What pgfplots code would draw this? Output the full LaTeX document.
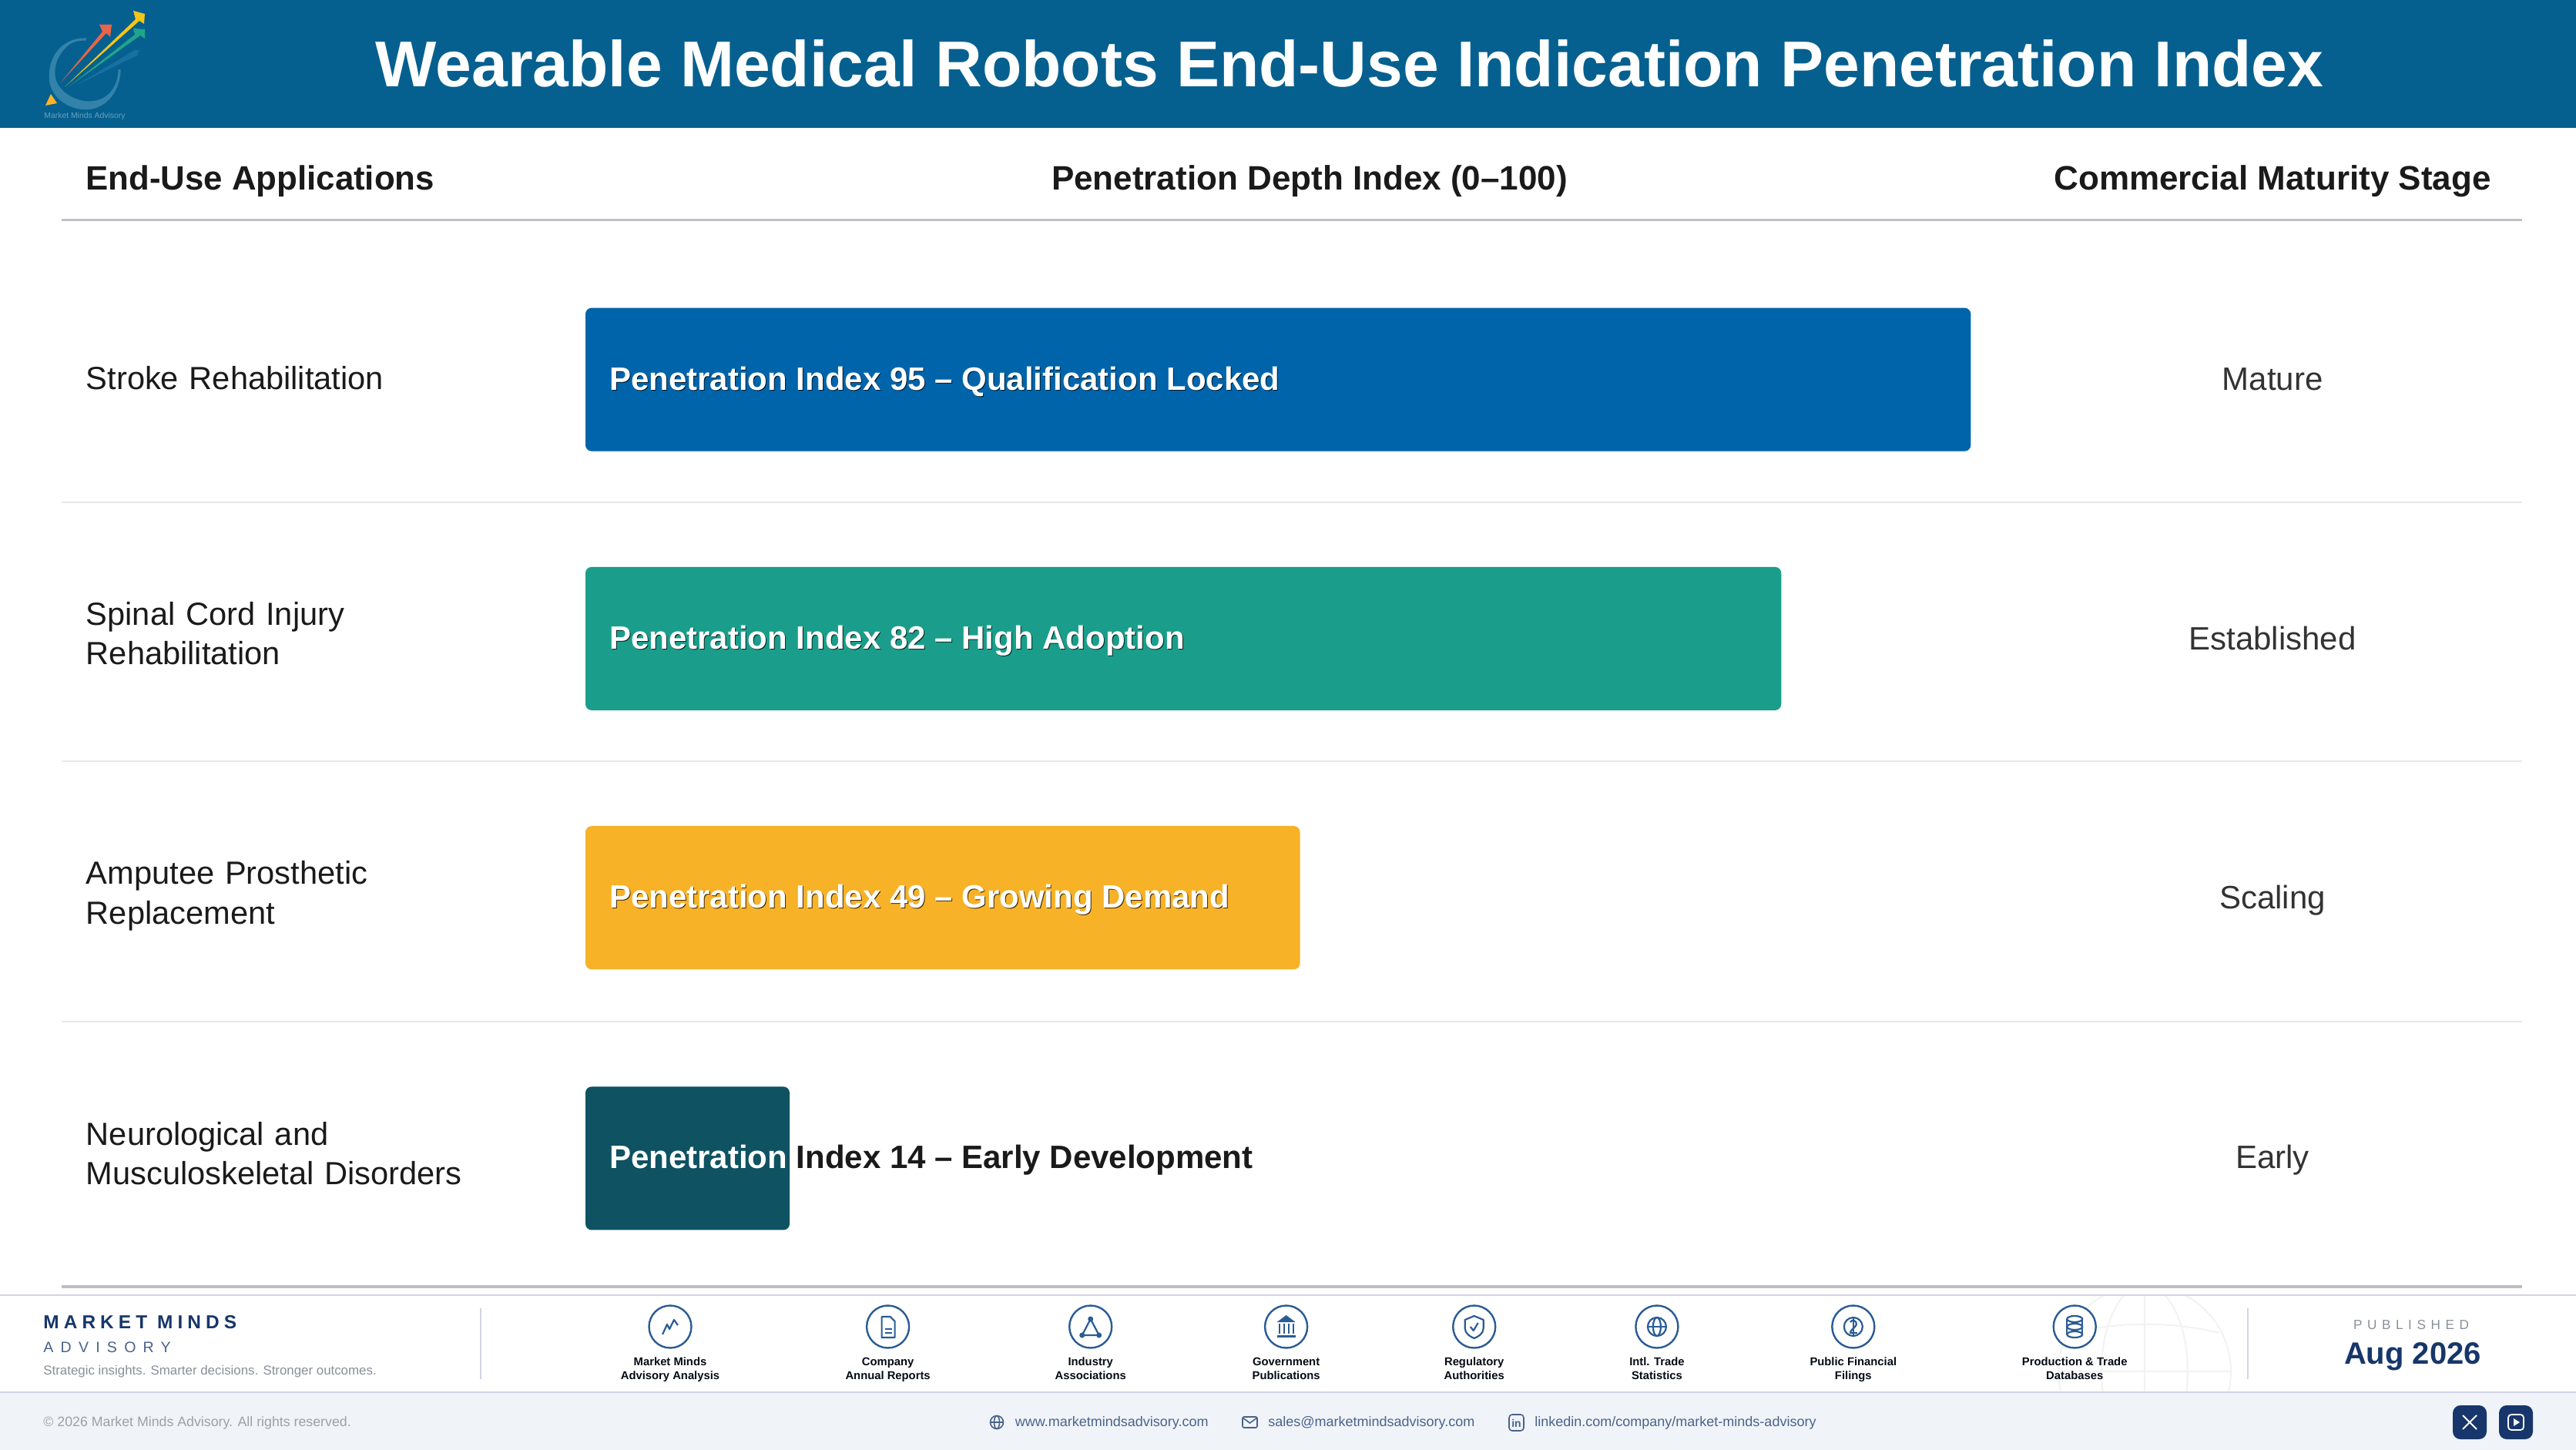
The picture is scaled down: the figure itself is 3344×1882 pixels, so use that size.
\documentclass[border=0pt]{standalone}
\usepackage{pgfplots}
\pgfplotsset{compat=1.18}
\usepackage{fontspec}
\setmainfont{Liberation Sans}
\newfontfamily\spacedA[LetterSpace=25,Ligatures=NoCommon]{Liberation Sans Bold}
\newfontfamily\spacedB[LetterSpace=47]{Liberation Sans}
\newfontfamily\spacedC[LetterSpace=38]{Liberation Sans}
\definecolor{hdr}{RGB}{5,96,143}
\definecolor{cA}{RGB}{0,100,170}
\definecolor{cB}{RGB}{26,158,139}
\definecolor{cC}{RGB}{247,178,40}
\definecolor{cD}{RGB}{15,82,98}
\definecolor{ink}{RGB}{26,26,26}
\definecolor{navy}{RGB}{23,54,107}
\definecolor{iconb}{RGB}{42,92,150}
\definecolor{bandline}{RGB}{208,212,228}
\definecolor{band}{RGB}{240,244,249}
\definecolor{grayt}{RGB}{138,143,153}
\definecolor{linkc}{RGB}{74,98,138}
\newcommand{\fs}[1]{\fontsize{#1}{#1}\selectfont}
\newcommand{\iconlabel}[3]{\node[anchor=base,font=\bfseries\fs{7.4},text=black!80!navy] at (#1,1772) {#2};
  \node[anchor=base,font=\bfseries\fs{7.4},text=black!80!navy] at (#1,1790) {#3};}
\begin{document}
\begin{tikzpicture}
\begin{scope}[x=0.5pt,y=-0.5pt]
\path[use as bounding box] (0,0) rectangle (3344,1882);
\fill[white] (0,0) rectangle (3344,1882);
% header
\fill[hdr] (0,0) rectangle (3344,166);
% logo
\draw[line width=1.6pt,color={rgb,255:red,50;green,130;blue,170}] (112,51) .. controls (75,50) and (60,85) .. (67,110) .. controls (75,135) and (105,145) .. (125,138) .. controls (145,130) and (155,110) .. (155,90);
\fill[fill={rgb,255:red,50;green,130;blue,170}] (100,52) .. controls (72,58) and (60,85) .. (65,110) .. controls (73,137) and (105,147) .. (125,140) .. controls (146,132) and (156,112) .. (155,90) .. controls (152,112) and (142,128) .. (122,131) .. controls (102,134) and (80,122) .. (73,105) .. controls (67,85) and (78,62) .. (100,52) -- cycle;
\fill[fill={rgb,255:red,232;green,101;blue,74}] (79,107)--(133,41)--(129,32)--(145,32)--(143,48)--(138,43)--cycle;
\fill[fill={rgb,255:red,245;green,197;blue,24}] (84,113)--(176,25)--(173,14)--(188,18)--(187,31)--(181,27)--cycle;
\fill[fill={rgb,255:red,31;green,165;blue,138}] (90,112)--(175,45)--(173,37)--(188,38)--(188,50)--(182,46)--cycle;
\fill[fill={rgb,255:red,31;green,119;blue,170},opacity=.7] (100,110)--(175,65)--(181,65)--(178,72)--cycle;
\fill[fill={rgb,255:red,250;green,180;blue,40}] (66,122)--(59,137)--(74,134)--cycle;
\node[anchor=base,font=\fs{5.2},text=hdr!60!white] at (110,154) {Market Minds Advisory};
\node[anchor=base,font=\bfseries\fs{42},text=white] at (1752,113) {Wearable Medical Robots End-Use Indication Penetration Index};
% column heads
\node[anchor=base west,inner sep=0pt,font=\bfseries\fs{21.9},text=ink] at (111,247) {End-Use Applications};
\node[anchor=base,inner sep=0pt,font=\bfseries\fs{22},text=ink] at (1700,247) {Penetration Depth Index (0--100)};
\node[anchor=base,inner sep=0pt,font=\bfseries\fs{22},text=ink] at (2950,247) {Commercial Maturity Stage};
% rules
\draw[line width=1.5pt,color={rgb,255:red,192;green,192;blue,198}] (80,286)--(3274,286);
\foreach \y in {652,987.5,1326}{\draw[line width=1pt,color=black!9] (80,\y)--(3274,\y);}
\draw[line width=1.7pt,color={rgb,255:red,190;green,190;blue,194}] (80,1670)--(3274,1670);
% footer
\fill[band] (0,1807) rectangle (3344,1882);
\begin{scope}
\clip (2600,1681) rectangle (3000,1807);
\draw[line width=1pt,color=black!5] (2784,1780) circle (112);
\draw[line width=1pt,color=black!5] (2784,1780) ellipse (56 and 112);
\draw[line width=1pt,color=black!5] (2672,1780)--(2896,1780);
\draw[line width=1pt,color=black!5] (2784,1668)--(2784,1892);
\draw[line width=1pt,color=black!5] (2690,1730) .. controls (2750,1715) and (2820,1715) .. (2880,1730);
\end{scope}
\draw[line width=1.2pt,color=bandline] (0,1681)--(3344,1681);
\draw[line width=1.2pt,color=bandline] (0,1807)--(3344,1807);
\draw[line width=.8pt,color=bandline] (624,1698)--(624,1790);
\draw[line width=.8pt,color=bandline] (2918,1698)--(2918,1790);
\node[anchor=base west,inner sep=0pt,font=\spacedA\fs{12.2},text=navy] at (56,1724) {MARKET MINDS};
\node[anchor=base west,inner sep=0pt,font=\spacedB\fs{9.8},text=linkc] at (56,1755) {ADVISORY};
\node[anchor=base west,inner sep=0pt,font=\fs{8.43},text=grayt] at (56,1784) {Strategic insights. Smarter decisions. Stronger outcomes.};
\node[anchor=base west,inner sep=0pt,font=\fs{8.88},text=grayt!85!white] at (56,1851) {© 2026 Market Minds Advisory. All rights reserved.};
% icon circles
\foreach \x in {870,1152.6,1415.7,1669.6,1913.7,2150.9,2405.8,2693.2}{\draw[line width=1.2pt,color=iconb,fill=white] (\x,1722) circle (27.5);}
\begin{scope}[shift={(870,1722)},color=iconb,line width=1.1pt,line join=round]
\draw (-10,10)--(-4,-3)--(-1,3)--(5,-9)--(10,-2);
\end{scope}
\begin{scope}[shift={(1152.6,1722)},color=iconb,line width=1.1pt,line join=round]
\draw (-8,-13)--(3,-13)--(9,-7)--(9,14)--(-8,14)--cycle;\draw (-4,3)--(5,3);\draw (-4,8)--(5,8);
\end{scope}
\begin{scope}[shift={(1415.7,1722)},color=iconb,line width=1.1pt,line join=round]
\draw (0,-10)--(-11,11)--(11,11)--cycle;\fill (0,-10) circle (3.5);\fill (-11,11) circle (3.5);\fill (11,11) circle (3.5);
\end{scope}
\begin{scope}[shift={(1669.6,1722)},color=iconb,line width=1.1pt,line join=round]
\fill (-12,-6)--(0,-15)--(12,-6)--cycle;\fill (-12,11) rectangle (12,14);
\foreach \a in {-9,-3,3,9}{\fill (\a-1,-4) rectangle (\a+1,9);}
\end{scope}
\begin{scope}[shift={(1913.7,1722)},color=iconb,line width=1.1pt,line join=round]
\draw (0,-14)--(12,-9)--(12,2)..controls (12,9) and (5,13)..(0,15)..controls (-5,13) and (-12,9)..(-12,2)--(-12,-9)--cycle;
\draw (-5,0)--(-1,5)--(5,-5);
\end{scope}
\begin{scope}[shift={(2150.9,1722)},color=iconb,line width=1.1pt]
\draw (0,0) circle (12);\draw (0,0) ellipse (5 and 12);\draw (-12,0)--(12,0);
\end{scope}
\begin{scope}[shift={(2405.8,1722)},color=iconb,line width=1.1pt,line join=round]
\draw (0,0) circle (12);\draw (-4,-6)..controls (-2,-10) and (5,-8)..(4,-3)..controls (3,1) and (-4,4)..(-4,8)--(5,8);\draw (0,-11)--(0,11);
\end{scope}
\begin{scope}[shift={(2693.2,1722)},color=iconb,line width=1.1pt]
\draw (-10,-10)--(-10,10);\draw (10,-10)--(10,10);\draw (0,-10) ellipse (10 and 4);\draw (0,0) ellipse (10 and 4);\draw (0,10) ellipse (10 and 4);
\end{scope}
\iconlabel{870}{Market Minds}{Advisory Analysis}
\iconlabel{1152.6}{Company}{Annual Reports}
\iconlabel{1415.7}{Industry}{Associations}
\iconlabel{1669.6}{Government}{Publications}
\iconlabel{1913.7}{Regulatory}{Authorities}
\iconlabel{2150.9}{Intl. Trade}{Statistics}
\iconlabel{2405.8}{Public Financial}{Filings}
\iconlabel{2693.2}{Production \& Trade}{Databases}
% published
\node[anchor=base,inner sep=0pt,font=\spacedC\fs{8.6},text=grayt] at (3130,1725) {PUBLISHED};
\node[anchor=base,inner sep=0pt,font=\bfseries\fs{20},text=navy] at (3132,1770) {Aug 2026};
% links
\begin{scope}[shift={(1294,1846)},color=linkc,line width=.8pt]
\draw (0,0) circle (8.5);\draw (0,0) ellipse (3.5 and 8.5);\draw (-8.5,0)--(8.5,0);
\end{scope}
\draw[color=linkc,line width=.8pt,rounded corners=1pt] (1613,1839) rectangle (1632,1853);\draw[color=linkc,line width=.8pt] (1613,1840)--(1622.5,1847)--(1632,1840);
\draw[color=linkc,line width=.8pt,rounded corners=2pt] (1959,1836) rectangle (1978,1857);
\node[font=\bfseries\fs{7},text=linkc,inner sep=0pt] at (1968.5,1847) {in};
\node[anchor=base west,inner sep=0pt,font=\fs{9},text=linkc] at (1317.5,1851) {www.marketmindsadvisory.com};
\node[anchor=base west,inner sep=0pt,font=\fs{9},text=linkc] at (1646,1851) {sales@marketmindsadvisory.com};
\node[anchor=base west,inner sep=0pt,font=\fs{9},text=linkc] at (1992,1851) {linkedin.com/company/market-minds-advisory};
\fill[navy,rounded corners=5pt] (3184,1824) rectangle (3228,1868);
\draw[white,line width=1pt] (3197,1837)--(3215,1855);\draw[white,line width=1pt] (3215,1837)--(3197,1855);
\fill[navy,rounded corners=5pt] (3244,1824) rectangle (3288,1868);
\draw[white,line width=.9pt,rounded corners=2pt] (3256,1836) rectangle (3276,1856);
\fill[white] (3263,1841)--(3271,1846)--(3263,1851)--cycle;
% right column
\node[anchor=base,font=\fs{21},text=black!80] at (2950,507) {Mature};
\node[anchor=base,font=\fs{21},text=black!80] at (2950,843) {Established};
\node[anchor=base,font=\fs{21},text=black!80] at (2950,1179) {Scaling};
\node[anchor=base,font=\fs{21},text=black!80] at (2950,1516) {Early};
\end{scope}
\begin{axis}[
  at={(380pt,-834.75pt)},anchor=south west,
  scale only axis,width=946.5pt,height=672.5pt,
  xmin=0,xmax=100,ymin=-0.5,ymax=3.5,y dir=reverse,
  axis line style={draw=none},tick style={draw=none},
  xtick=\empty,ytick={0,1,2,3.006},
  yticklabels={{Stroke Rehabilitation},{Spinal Cord Injury\\Rehabilitation\vphantom{p}},{Amputee Prosthetic\\Replacement},{Neurological and\\Musculoskeletal Disorders\vphantom{p}}},
  yticklabel style={anchor=west,align=left,text width=320pt,inner sep=0pt,xshift=-320pt,yshift=1.2pt,text=ink,font=\fontsize{20.8}{25.6}\selectfont},
  clip=false,
  xbar,bar width=93pt,bar shift=0pt,
]
\addplot[fill=cA,draw=none,rounded corners=4pt] coordinates {(95,0)};
\addplot[fill=cB,draw=none,rounded corners=4pt] coordinates {(82,1)};
\addplot[fill=cC,draw=none,rounded corners=4pt] coordinates {(49,2)};
\addplot[fill=cD,draw=none,rounded corners=4pt] coordinates {(14,3.006)};
\newcommand{\barlab}[2]{%
 \node[anchor=base west,inner sep=0pt,font=\bfseries\fs{21},text=black,opacity=.75,xshift=15.8pt,yshift=-7.3pt] at (axis cs:0,#1) {#2};
 \node[anchor=base west,inner sep=0pt,font=\bfseries\fs{21},text=white,xshift=15.3pt,yshift=-6.75pt] at (axis cs:0,#1) {#2};}
\barlab{0}{Penetration Index 95 -- Qualification Locked}
\barlab{1}{Penetration Index 82 -- High Adoption}
\barlab{2}{Penetration Index 49 -- Growing Demand}
\node[anchor=base west,inner sep=0pt,font=\bfseries\fs{21},xshift=15.3pt,yshift=-6.75pt,text=ink] at (axis cs:0,3.006) {\textcolor{white}{Penetration} Index 14 -- Early Development};
\end{axis}
\end{tikzpicture}
\end{document}
